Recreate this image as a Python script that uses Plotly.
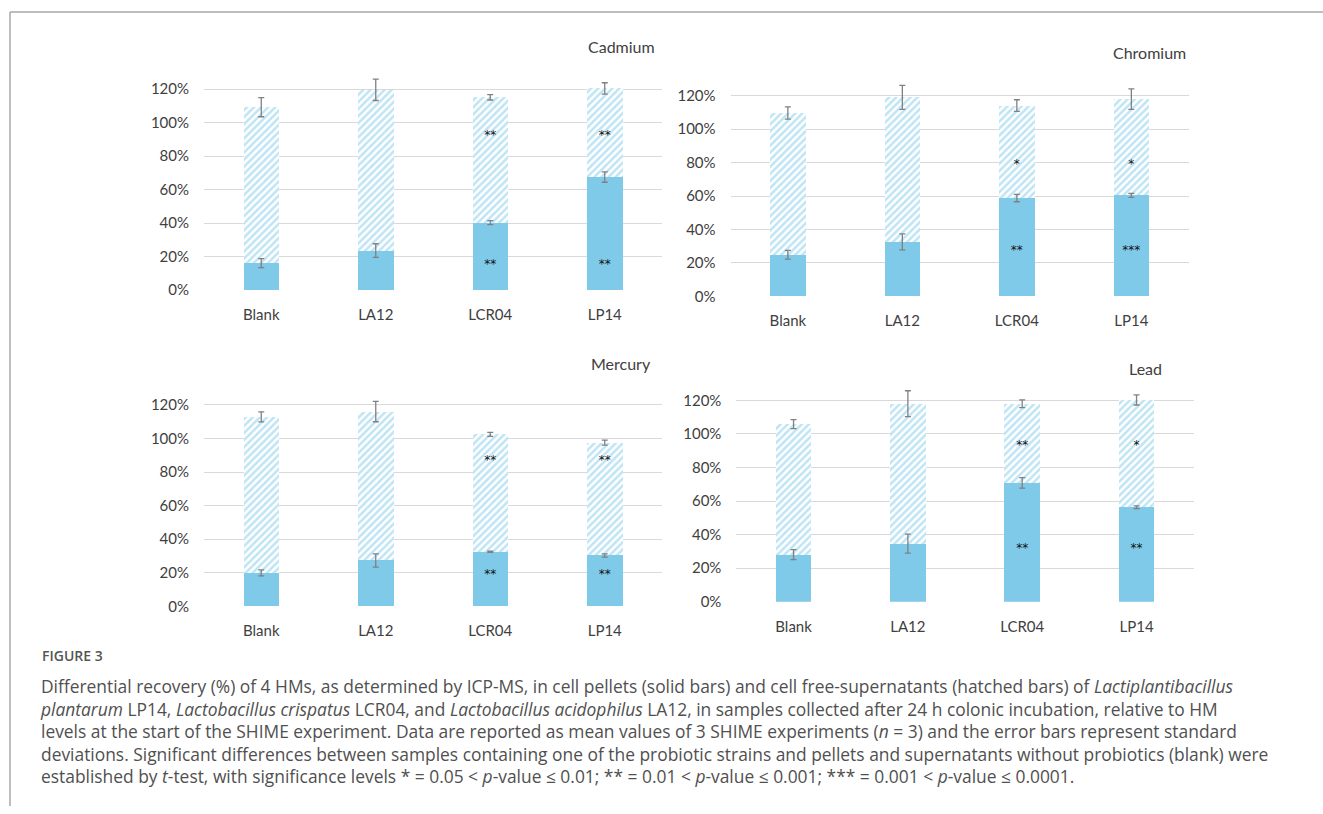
import plotly.graph_objects as go

# Strains on the x axis of every panel
strains = ["Blank", "LA12", "LCR04", "LP14"]

# Recovery (%) in cell pellets (solid) and cell-free supernatants (hatched)
cd_pellet = [16.1, 23.6, 40.3, 67.5]
cd_pellet_sd = [2.7, 4.1, 1.2, 3.1]
cd_super = [93.1, 96.0, 74.8, 52.9]
cd_total_sd = [5.7, 6.4, 1.6, 3.4]
cd_pellet_sig = ["", "", "**", "**"]
cd_super_sig = ["", "", "**", "**"]

cr_pellet = [24.9, 32.6, 58.8, 60.4]
cr_pellet_sd = [2.6, 4.8, 2.2, 1.2]
cr_super = [84.8, 86.4, 55.3, 57.6]
cr_total_sd = [3.7, 7.2, 3.5, 6.1]
cr_pellet_sig = ["", "", "**", "***"]
cr_super_sig = ["", "", "*", "*"]

hg_pellet = [19.9, 27.3, 32.5, 30.3]
hg_pellet_sd = [1.8, 3.9, 0.4, 1.0]
hg_super = [93.0, 88.8, 70.0, 67.3]
hg_total_sd = [3.0, 6.1, 1.2, 1.5]
hg_pellet_sig = ["", "", "**", "**"]
hg_super_sig = ["", "", "**", "**"]

pb_pellet = [28.1, 34.6, 70.8, 56.3]
pb_pellet_sd = [3.0, 5.7, 3.1, 0.8]
pb_super = [77.7, 83.4, 47.2, 63.9]
pb_total_sd = [2.7, 7.7, 2.3, 3.0]
pb_pellet_sig = ["", "", "**", "**"]
pb_super_sig = ["", "", "**", "*"]

y_ticks = [0, 20, 40, 60, 80, 100, 120]
y_tick_text = ["0%", "20%", "40%", "60%", "80%", "100%", "120%"]

W, H = 1323, 814
SOLID = "#7FC9E9"
ERR = "#808080"
GRID = "#D9D9D9"
TICK_FONT = dict(family="Lato, 'DejaVu Sans', sans-serif", size=15, color="#404040")

panels = [
    # name, pellet, pellet sd, supernatant, total sd, sigs, title, plot box px, star heights
    dict(name="Cadmium", pellet=cd_pellet, psd=cd_pellet_sd, sup=cd_super, tsd=cd_total_sd,
         psig=cd_pellet_sig, ssig=cd_super_sig,
         x0=204, x1=662, y0=293.0, y120=90.0, title_x=657, title_y=47, title_anchor="right",
         star_lo=15, star_hi=92),
    dict(name="Chromium", pellet=cr_pellet, psd=cr_pellet_sd, sup=cr_super, tsd=cr_total_sd,
         psig=cr_pellet_sig, ssig=cr_super_sig,
         x0=730.6, x1=1188.6, y0=299.3, y120=96.7, title_x=1188, title_y=53, title_anchor="right",
         star_lo=27, star_hi=78.6),
    dict(name="Mercury", pellet=hg_pellet, psd=hg_pellet_sd, sup=hg_super, tsd=hg_total_sd,
         psig=hg_pellet_sig, ssig=hg_super_sig,
         x0=204, x1=662, y0=612.3, y120=409.0, title_x=653, title_y=367, title_anchor="right",
         star_lo=18.5, star_hi=86.4),
    dict(name="Lead", pellet=pb_pellet, psd=pb_pellet_sd, sup=pb_super, tsd=pb_total_sd,
         psig=pb_pellet_sig, ssig=pb_super_sig,
         x0=736.4, x1=1193.7, y0=607.7, y120=404.3, title_x=1145, title_y=372, title_anchor="center",
         star_lo=31.5, star_hi=92.7),
]

Y_MAX = 130

fig = go.Figure()
annotations = []

for i, p in enumerate(panels, start=1):
    xa = "x" if i == 1 else f"x{i}"
    ya = "y" if i == 1 else f"y{i}"
    totals = [a + b for a, b in zip(p["pellet"], p["sup"])]

    fig.add_trace(go.Bar(
        x=strains, y=p["pellet"], xaxis=xa, yaxis=ya,
        marker=dict(color=SOLID, line=dict(width=0)),
        width=0.31, showlegend=False, hoverinfo="skip"))
    fig.add_trace(go.Bar(
        x=strains, y=p["sup"], xaxis=xa, yaxis=ya,
        marker=dict(color="white", line=dict(width=0),
                    pattern=dict(shape="/", fgcolor="#7FC9E9", bgcolor="white",
                                 size=5, solidity=0.5, fillmode="overlay")),
        width=0.31, showlegend=False, hoverinfo="skip"))

    # error bars at the top of each stacked segment
    for yy, sd in ((p["pellet"], p["psd"]), (totals, p["tsd"])):
        fig.add_trace(go.Scatter(
            x=strains, y=yy, xaxis=xa, yaxis=ya, mode="markers",
            marker=dict(size=1, color="rgba(0,0,0,0)"),
            error_y=dict(type="data", array=sd, visible=True, color=ERR,
                         thickness=1.3, width=3),
            showlegend=False, hoverinfo="skip"))

    # significance stars
    for sig, lvl in ((p["psig"], p["star_lo"]), (p["ssig"], p["star_hi"])):
        fig.add_trace(go.Scatter(
            x=strains, y=[lvl] * len(strains), text=sig, mode="text",
            xaxis=xa, yaxis=ya, textposition="middle center",
            textfont=dict(family="DejaVu Sans, sans-serif", size=12, color="#111111"),
            showlegend=False, hoverinfo="skip"))

    h120 = p["y0"] - p["y120"]
    ytop = p["y0"] - h120 * Y_MAX / 120.0
    fig.layout[f"xaxis{'' if i == 1 else i}"] = dict(
        domain=[p["x0"] / W, p["x1"] / W], anchor=ya, type="category",
        showgrid=False, zeroline=False, showline=False, ticks="",
        tickfont=TICK_FONT, ticklabelstandoff=14, fixedrange=True)
    fig.layout[f"yaxis{'' if i == 1 else i}"] = dict(
        domain=[1 - p["y0"] / H, 1 - ytop / H], anchor=xa, range=[0, Y_MAX],
        tickvals=y_ticks, ticktext=y_tick_text, showgrid=True, gridcolor=GRID,
        gridwidth=1.3, zeroline=False, showline=False, ticks="",
        tickfont=TICK_FONT, ticklabelstandoff=14, fixedrange=True)

    annotations.append(dict(
        text=p["name"], xref="paper", yref="paper",
        x=p["title_x"] / W, y=1 - p["title_y"] / H,
        xanchor=p["title_anchor"], yanchor="middle", showarrow=False,
        font=dict(family="Lato, 'DejaVu Sans', sans-serif", size=16, color="#404040")))

caption_lines = [
    "Differential recovery (%) of 4 HMs, as determined by ICP-MS, in cell pellets (solid bars) and cell free-supernatants (hatched bars) of <i>Lactiplantibacillus</i>",
    "<i>plantarum</i> LP14, <i>Lactobacillus crispatus</i> LCR04, and <i>Lactobacillus acidophilus</i> LA12, in samples collected after 24 h colonic incubation, relative to HM",
    "levels at the start of the SHIME experiment. Data are reported as mean values of 3 SHIME experiments (<i>n</i> = 3) and the error bars represent standard",
    "deviations. Significant differences between samples containing one of the probiotic strains and pellets and supernatants without probiotics (blank) were",
    "established by <i>t</i>-test, with significance levels * = 0.05 &lt; <i>p</i>-value ≤ 0.01; ** = 0.01 &lt; <i>p</i>-value ≤ 0.001; *** = 0.001 &lt; <i>p</i>-value ≤ 0.0001.",
]

annotations.append(dict(
    text="FIGURE 3", xref="paper", yref="paper", x=40 / W, y=1 - 662 / H,
    xanchor="left", yanchor="middle", showarrow=False,
    font=dict(family="Open Sans, sans-serif", size=14, color="#555555", weight=600)))
# caption block: five lines at ~22.5 px pitch
annotations.append(dict(
    text="<br>".join(caption_lines), xref="paper", yref="paper",
    x=38 / W, y=1 - 738 / H,
    xanchor="left", yanchor="middle", showarrow=False, align="left",
    font=dict(family="Open Sans, sans-serif", size=17.4, color="#505050")))

shapes = [
    dict(type="line", xref="paper", yref="paper", x0=10 / W, x1=1.0, y0=1 - 12 / H, y1=1 - 12 / H,
         line=dict(color="#A8A8A8", width=1.5)),
    dict(type="line", xref="paper", yref="paper", x0=10 / W, x1=10 / W, y0=1 - 12 / H, y1=0,
         line=dict(color="#A8A8A8", width=1.5)),
]

fig.update_layout(
    width=W, height=H, margin=dict(l=0, r=0, t=0, b=0),
    paper_bgcolor="white", plot_bgcolor="white",
    barmode="stack", bargap=0.69,
    annotations=annotations, shapes=shapes, showlegend=False)

fig.write_html("out.html", config={"displayModeBar": False})
